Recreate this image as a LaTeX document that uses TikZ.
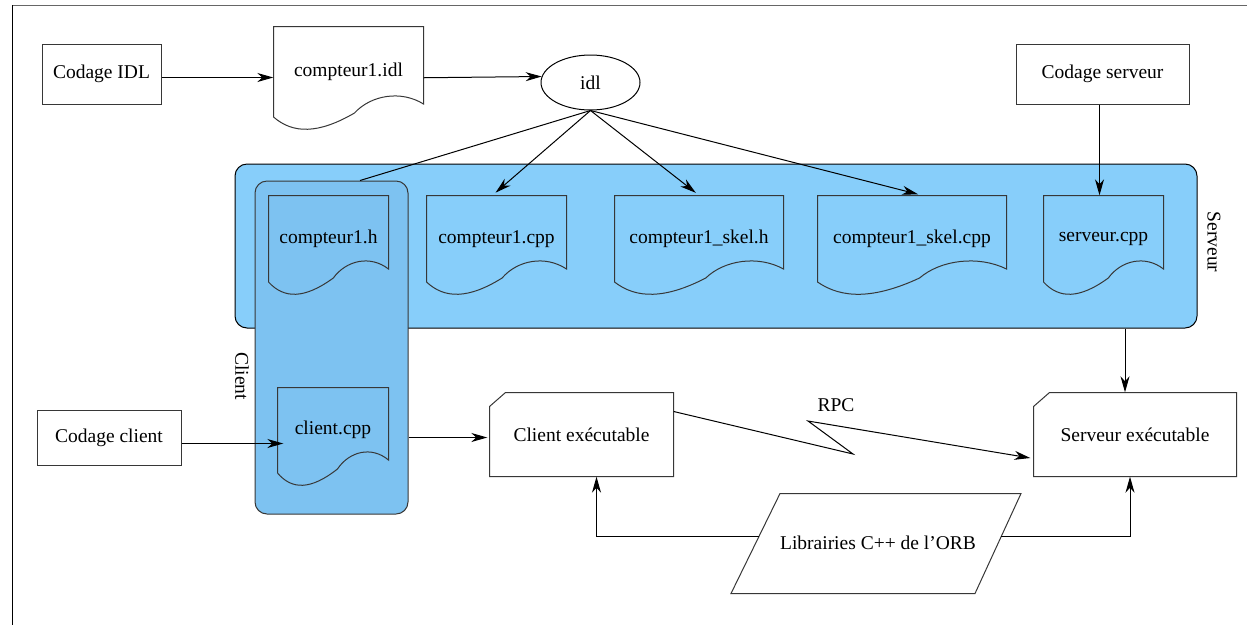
\documentclass[tikz,border=0pt]{standalone}
\usepackage{fontspec}
\setmainfont{Liberation Serif}
\usetikzlibrary{arrows.meta,calc,shapes.geometric}

\definecolor{servfill}{RGB}{135,206,250}
\definecolor{clifill}{RGB}{125,194,241}
\definecolor{edge}{RGB}{55,55,55}

\tikzset{
  lbl/.style={font=\fontsize{19.5}{23}\selectfont, inner sep=0pt},
  arr/.style={-{Stealth[length=16pt,width=9pt,inset=5pt]}, line width=1pt, black},
  plain/.style={line width=1pt, black},
  procbox/.style={lbl, draw=edge, line width=1pt, fill=white},
  outline/.style={draw=edge, line width=1pt},
}

% file icon with a wavy lower edge: name, left, top, right, bottom, fill, text
\newcommand{\docfile}[7]{%
  \path[outline, fill=#6]
    (#2,#3) -- (#4,#3) -- (#4,#5-13)
    .. controls ({#4-0.15*(#4-#2)},#5-27) and ({#2+0.65*(#4-#2)},#5-22) .. ({#2+0.54*(#4-#2)},#5-4)
    .. controls ({#2+0.3*(#4-#2)},#5+17) and ({#2+0.13*(#4-#2)},#5+17) .. (#2,#5) -- cycle;
  \node[lbl, minimum width={(#4-#2)*1pt}, minimum height={(#5-#3)*1pt}]
    (#1) at ({(#2+#4)/2},{(#3+#5)/2}) {#7};
}

% box with a cut top-left corner: name, left, top, right, bottom, text
\newcommand{\exebox}[6]{%
  \path[outline, fill=white]
    (#2,#3+14) -- (#2+16,#3) -- (#4,#3) -- (#4,#5) -- (#2,#5) -- cycle;
  \node[lbl, minimum width={(#4-#2)*1pt}, minimum height={(#5-#3)*1pt}]
    (#1) at ({(#2+#4)/2},{(#3+#5)/2}) {#6};
}

\begin{document}
\begin{tikzpicture}[x=1pt, y=-1pt]
\useasboundingbox (0,0) rectangle (1247,625);

% frame
\draw[line width=1pt, black!60] (12,5.5) -- (1247,5.5);
\draw[line width=1pt, black] (12.5,5) -- (12.5,625);

% top row
\node[procbox, minimum width=119pt, minimum height=60pt] (cidl) at (101.5,74) {Codage IDL};
\docfile{fidl}{273.5}{26.5}{423.5}{117}{white}{compteur1.idl}
\node[lbl, draw=black, line width=1pt, ellipse, minimum width=99pt, minimum height=55pt] (idl) at (590.5,82.5) {idl};
\node[procbox, minimum width=173pt, minimum height=60pt] (cserv) at (1102.5,74) {Codage serveur};

% server and client groups
\node[draw=black, line width=1pt, fill=servfill, rounded corners=12pt, minimum width=962pt, minimum height=164pt] (serv) at (716,246) {};
\node[lbl, rotate=-90] (servlbl) at (1214,242) {Serveur};
\node[draw=edge, line width=1pt, fill=clifill, rounded corners=12pt, minimum width=153pt, minimum height=333pt] (cbox) at (331.5,347.5) {};
\node[lbl, rotate=-90] (clilbl) at (242,376) {Client};

% generated and written sources
\docfile{fh}{268.5}{195.5}{388.5}{282}{clifill}{compteur1.h}
\docfile{fcpp}{426.5}{195.5}{566.5}{282}{servfill}{compteur1.cpp}
\docfile{fskelh}{614.5}{195.5}{783.5}{282}{servfill}{compteur1\_skel.h}
\docfile{fskelcpp}{817.5}{195.5}{1006.5}{282}{servfill}{compteur1\_skel.cpp}
\docfile{fserv}{1043.5}{195.5}{1163.5}{282}{servfill}{serveur.cpp}
\docfile{fcli}{277.5}{387.5}{388.5}{473}{clifill}{client.cpp}

% lower row
\node[procbox, minimum width=144pt, minimum height=55pt] (ccli) at (109,437.5) {Codage client};
\exebox{cexe}{489.5}{392.5}{673.5}{476.5}{Client exécutable}
\exebox{sexe}{1033.5}{392.5}{1236.5}{476.5}{Serveur exécutable}
\node[lbl] (rpc) at (836,405) {RPC};

\path[outline] (780,493.5) -- (1021,493.5) -- (975,593.5) -- (731,593.5) -- cycle;
\node[lbl] (lib) at (878,543) {Librairies C++ de l'ORB};
\coordinate (libL) at (759,536.5);
\coordinate (libR) at (1001,536.5);
\coordinate (z1) at (853,454);
\coordinate (z2) at (808,421);

% connectors
\draw[arr] ([yshift=-3.5pt]cidl.east) -- ([yshift=-3.5pt]cidl.east -| fidl.west);
\draw[arr] ([yshift=-6pt]fidl.east) -- (idl.173);
\draw[plain] (idl.south) -- ([xshift=28.5pt]cbox.north);
\draw[arr, shorten >=4pt] (idl.south) -- ([xshift=-4pt]fcpp.north);
\draw[arr, shorten >=4pt] (idl.south) -- (fskelh.north);
\draw[arr, shorten >=4pt] (idl.south) -- ([xshift=10pt]fskelcpp.north);
\draw[arr] ([xshift=-3pt]cserv.south) -- ([xshift=-3pt]cserv.south |- fserv.north);
\draw[arr] ([xshift=-10pt]sexe.north |- serv.south) -- ([xshift=-10pt]sexe.north);
\draw[arr, shorten >=-6pt] ([yshift=-6pt]ccli.east) -- ([yshift=-6pt]ccli.east -| fcli.west);
\draw[arr, shorten >=2pt] ([yshift=-3pt]cbox.east |- cexe.west) -- ([yshift=-3pt]cexe.west);
\draw[arr, shorten >=3pt] ([yshift=23pt]cexe.east) -- (z1) -- (z2) -- ([yshift=-24pt]sexe.west);
\draw[arr] (libL) -| ([xshift=15pt]cexe.south);
\draw[arr] (libR) -| ([xshift=-5pt]sexe.south);
\end{tikzpicture}
\end{document}
